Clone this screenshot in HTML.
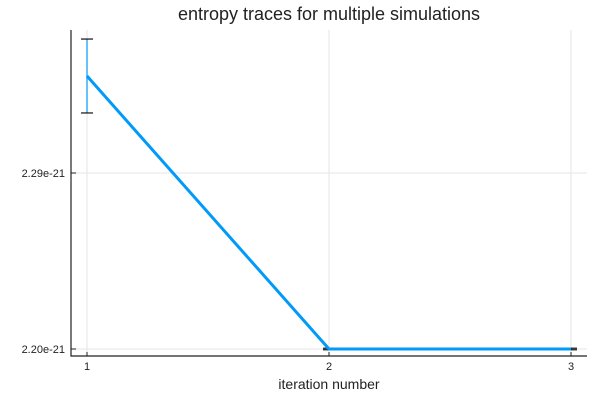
<!DOCTYPE html>
<html><head><meta charset="utf-8"><style>
body{margin:0;background:#fff}
svg{display:block;font-family:"Liberation Sans",sans-serif}
</style></head><body>
<svg id="chart" width="600" height="400" viewBox="0 0 600 400">
<text x="329" y="20" font-size="18" text-anchor="middle" fill="#222">entropy traces for multiple simulations</text>
<g id="grid"></g><g id="marks"></g><g id="axes"></g>
<text x="329" y="389" font-size="14" text-anchor="middle" fill="#222">iteration number</text>
</svg>
<script>
const iterations=[1,2,3];
const entropy=[2.3396,2.2000,2.2000];
const errors=[0.0189,0.0004,0.0004];
const xTicks=[1,2,3];
const yTicks=[2.20,2.29];
const yTickLabels=["2.20e-21","2.29e-21"];
const NS="http://www.w3.org/2000/svg";
function X(v){return 87+(v-1)*242;}
function Y(v){return 349-(v-2.20)/0.09*176;}
function mk(tag,attrs,parent){const e=document.createElementNS(NS,tag);for(const k in attrs)e.setAttribute(k,attrs[k]);document.getElementById(parent).appendChild(e);return e;}
const L=71,R=587,T=30,B=356;
xTicks.forEach(t=>{
 const g=mk('line',{x1:X(t),x2:X(t),y1:T,y2:B,stroke:'#e6e6e6','stroke-width':1},'grid');
 
 
 const tk=mk('line',{x1:X(t),x2:X(t),y1:B,y2:B-4,stroke:'#222'},'axes');
 
 
 const tx=mk('text',{x:X(t),y:B+14,'font-size':11,'text-anchor':'middle',fill:'#222'},'axes');
 tx.textContent=t;
 
 
});
yTicks.forEach((t,i)=>{
 const g=mk('line',{x1:L,x2:R,y1:Y(t),y2:Y(t),stroke:'#e6e6e6','stroke-width':1},'grid');
 
 
 const tk=mk('line',{x1:L,x2:L+5,y1:Y(t),y2:Y(t),stroke:'#222'},'axes');
 
 
 const tx=mk('text',{x:L-6,y:Y(t)+4,'font-size':11,'text-anchor':'end',fill:'#222'},'axes');
 tx.textContent=yTickLabels[i];
 
 
});
const ax=mk('path',{d:`M${L},${T}V${B}H${R}`,fill:'none',stroke:'#222','stroke-width':1.2},'axes');


iterations.forEach((it,i)=>{
 const x=X(it),y1=Y(entropy[i]+errors[i]),y2=Y(entropy[i]-errors[i]);
 const e=mk('line',{x1:x,x2:x,y1:y1,y2:y2,stroke:'#009af9','stroke-width':1.2},'marks');
 
 
 [y1,y2].forEach(y=>{
  const c=mk('line',{x1:x-6,x2:x+6,y1:y,y2:y,stroke:'#111','stroke-width':1.2},'marks');
  
  
 });
});
const line=mk('polyline',{points:iterations.map((it,i)=>X(it)+','+Y(entropy[i])).join(' '),fill:'none',stroke:'#009af9','stroke-width':3,'stroke-linejoin':'round'},'marks');


</script>
</body></html>
